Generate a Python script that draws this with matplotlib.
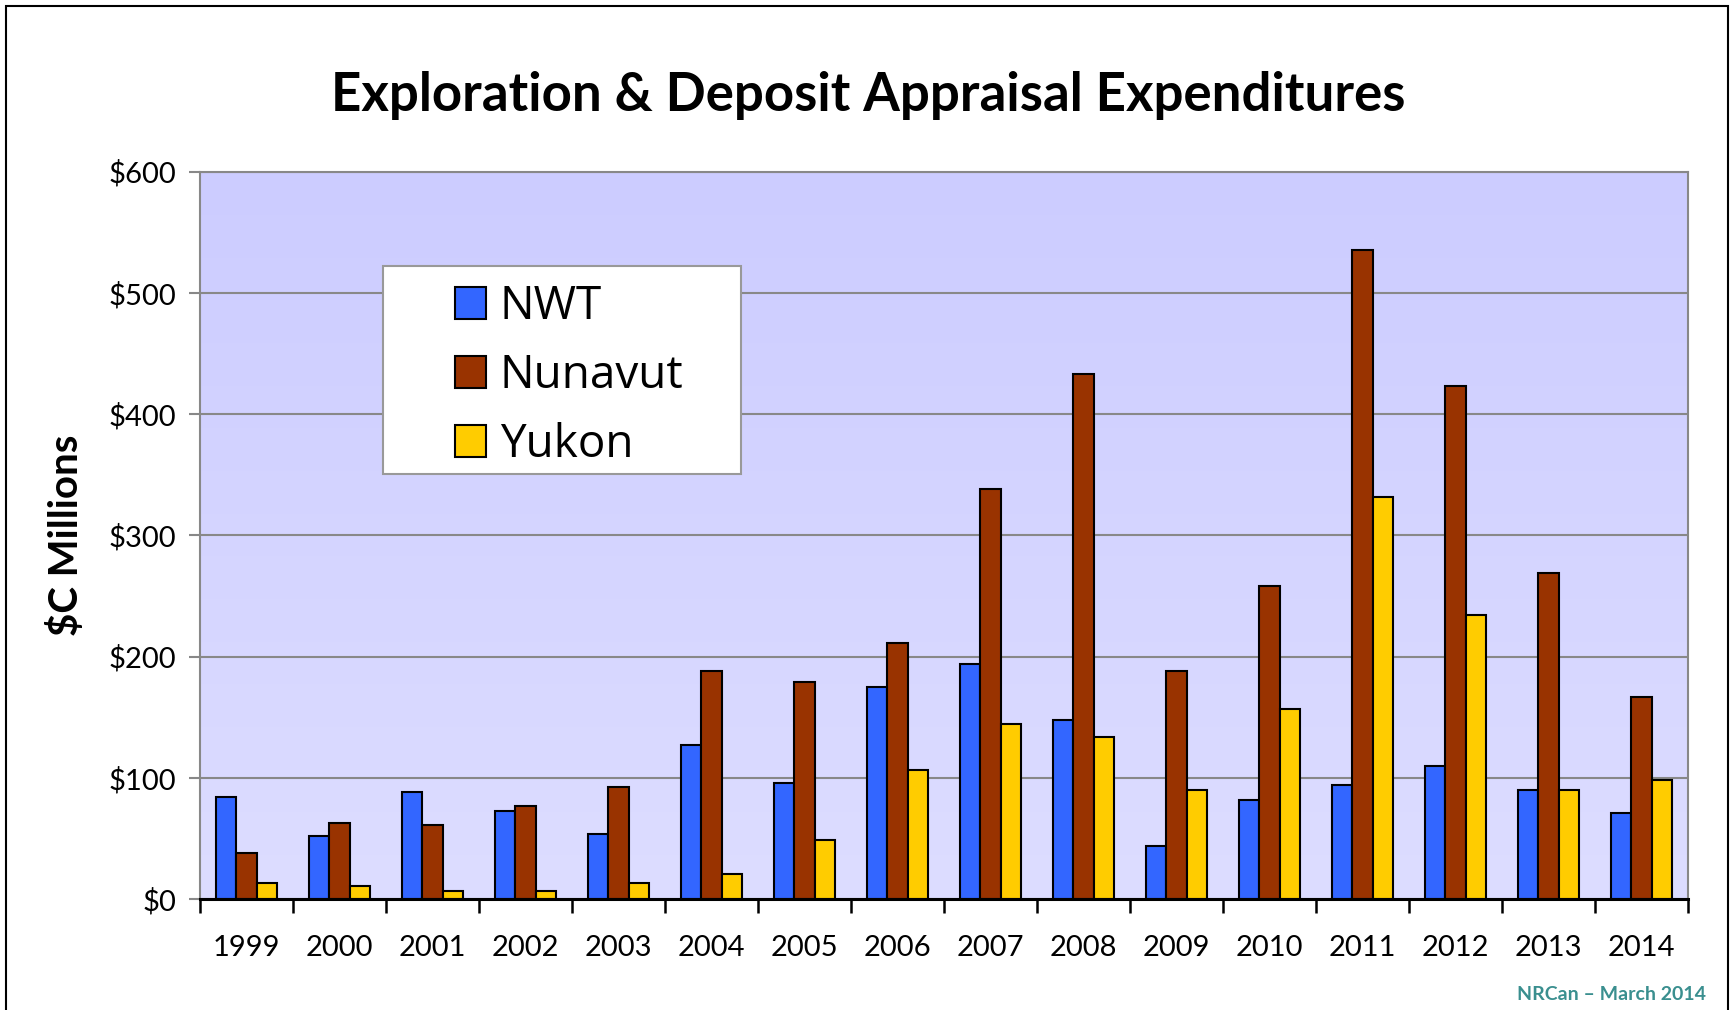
import matplotlib.pyplot as plt
import numpy as np
from matplotlib.patches import Rectangle

years = ['1999', '2000', '2001', '2002', '2003', '2004', '2005', '2006',
         '2007', '2008', '2009', '2010', '2011', '2012', '2013', '2014']
nwt = [84, 52, 88, 73, 54, 127, 96, 175, 194, 148, 44, 82, 94, 110, 90, 71]
nunavut = [38, 63, 61, 77, 92, 188, 179, 211, 338, 433, 188, 258, 535, 423, 269, 167]
yukon = [13, 11, 7, 7, 13, 21, 49, 106, 144, 134, 90, 157, 332, 234, 90, 98]
series = ['NWT', 'Nunavut', 'Yukon']
colors = ['#3366FF', '#993300', '#FFCC00']
y_ticks = [0, 100, 200, 300, 400, 500, 600]

plt.rcParams['font.family'] = ['Lato', 'DejaVu Sans']

fig = plt.figure(figsize=(17.36, 10.10), dpi=100)
ax = fig.add_axes([0.1152, 0.1099, 0.8571, 0.7202])

# gradient background of the plot area
grad = np.linspace(0, 1, 256).reshape(-1, 1)
top = np.array([0xCC, 0xCC, 0xFF]) / 255
bot = np.array([0xDD, 0xDD, 0xFF]) / 255
img = top + (bot - top) * grad[:, :, None]
ax.imshow(img, extent=[0, 1, 0, 1], transform=ax.transAxes, aspect='auto', zorder=0)

x = np.arange(len(years))
w = 0.22
for i, (vals, name) in enumerate(zip([nwt, nunavut, yukon], series)):
    ax.bar(x + (i - 1) * w, vals, w, color=colors[i], edgecolor='black',
           linewidth=1.5, label=name, zorder=3)

ax.set_xlim(-0.5, len(years) - 0.5)
ax.set_ylim(0, 600)
ax.set_yticks(y_ticks)
ax.set_yticklabels([f'${v}' for v in y_ticks], fontsize=21)
ax.yaxis.grid(True, color='#888888', linewidth=1.5, zorder=1)
ax.set_axisbelow(True)
ax.tick_params(axis='y', direction='out', length=8, width=1.5, color='#888888', pad=9)

ax.set_xticks(x)
ax.set_xticklabels(years, fontsize=21)
ax.set_xticks(np.arange(-0.5, len(years)), minor=True)
ax.tick_params(axis='x', which='major', length=0, pad=26)
ax.tick_params(axis='x', which='minor', direction='out', length=10, width=1.8, color='black')

for s in ['left', 'top', 'right']:
    ax.spines[s].set_color('#888888')
    ax.spines[s].set_linewidth(1.5)
ax.spines['bottom'].set_color('black')
ax.spines['bottom'].set_linewidth(2.2)
ax.spines['bottom'].set_zorder(5)

ax.set_ylabel('$C Millions', fontsize=29, fontweight='bold', labelpad=17)

# legend box drawn separately so its padding matches the original
fig.add_artist(Rectangle((383 / 1736, 1 - 474 / 1010), (741 - 383) / 1736, (474 - 266) / 1010,
                         transform=fig.transFigure, facecolor='white', edgecolor='#999999',
                         linewidth=1.5, zorder=4))
leg = ax.legend(loc='upper left', bbox_to_anchor=(455 / 1736, 1 - 284 / 1010),
                bbox_transform=fig.transFigure, frameon=False,
                handlelength=0.68, handleheight=0.68, handletextpad=0.3,
                labelspacing=0.5, borderpad=0, borderaxespad=0,
                prop={'family': ['Open Sans', 'DejaVu Sans'], 'size': 33})
leg.set_zorder(6)
fig.legends.append(ax.get_legend())
ax.get_legend().remove()

fig.text(0.5, 1 - 95 / 1010, 'Exploration & Deposit Appraisal Expenditures',
         ha='center', va='center', fontsize=38, fontweight='bold')
fig.text(1706 / 1736, 1 - 995 / 1010, 'NRCan \u2013 March 2014', ha='right', va='center',
         fontsize=14, fontweight='bold', color='#3A8F8F')

fig.add_artist(Rectangle((6 / 1736, -0.05), 1722 / 1736, 1004 / 1010 + 0.05,
                         transform=fig.transFigure, fill=False, edgecolor='black',
                         linewidth=1.5, clip_on=False))

fig.savefig('out.png', dpi=100)
